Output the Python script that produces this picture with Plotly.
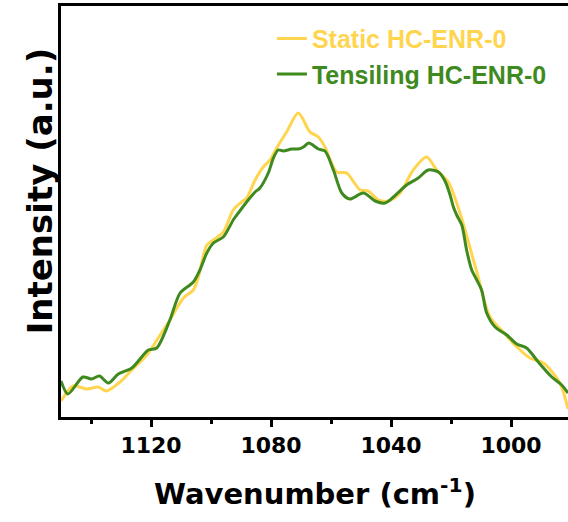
import plotly.graph_objects as go

# Static HC-ENR-0 (yellow)
static_wn = [1150.0, 1145.9, 1141.4, 1137.6, 1134.8, 1130.3, 1126.4, 1121.4, 1117.6, 1113.7,
             1109.2, 1105.9, 1104.2, 1101.4, 1099.2, 1095.9, 1092.6, 1089.8, 1088.1, 1085.3,
             1082.6, 1080.3, 1078.1, 1074.8, 1070.9, 1067.0, 1064.2, 1062.0, 1058.1, 1054.8,
             1050.3, 1047.6, 1044.2, 1040.9, 1037.0, 1032.6, 1028.1, 1024.8, 1020.9, 1017.0,
             1011.4, 1007.0, 1002.6, 998.7, 993.7, 989.2, 983.7, 981.0]
static_int = [16, 31, 28, 30, 26, 35, 47, 62, 79, 97,
              119, 127, 140, 172, 177, 185, 207, 215, 219, 237,
              250, 257, 269, 285, 304, 285, 280, 270, 245, 244,
              227, 226, 217, 216, 224, 247, 260, 247, 235, 204,
              145, 100, 85, 72, 59, 54, 34, 8]

# Tensiling HC-ENR-0 (green)
tens_wn = [1150.0, 1147.7, 1142.7, 1139.8, 1137.2, 1134.2, 1130.9, 1126.4, 1120.9, 1118.1,
           1113.7, 1110.3, 1105.9, 1103.7, 1101.4, 1099.2, 1095.9, 1092.6, 1090.9, 1087.6,
           1085.3, 1083.7, 1080.9, 1079.2, 1077.6, 1075.9, 1073.1, 1070.9, 1069.2, 1067.4,
           1064.2, 1062.0, 1059.2, 1056.4, 1053.7, 1049.2, 1045.3, 1042.0, 1039.2, 1034.8,
           1030.9, 1027.6, 1024.2, 1022.0, 1020.3, 1019.2, 1018.1, 1016.4, 1014.8, 1013.1,
           1011.4, 1009.8, 1008.1, 1005.3, 1001.4, 998.1, 994.8, 990.9, 986.4, 983.1, 981.0]
tens_int = [36, 23, 40, 38, 41, 34, 43, 49, 67, 69,
            97, 124, 135, 147, 164, 174, 180, 197, 204, 217,
            225, 229, 244, 259, 267, 266, 268, 268, 270, 274,
            268, 266, 247, 224, 218, 224, 216, 214, 220, 232,
            239, 247, 245, 236, 222, 210, 202, 192, 167, 147,
            137, 127, 104, 90, 82, 73, 69, 55, 40, 32, 24]

tick_vals = [1120, 1080, 1040, 1000]
tick_text = ["1120", "1080", "1040", "1000"]

YELLOW = "#FFD54F"
GREEN = "#3F8A1E"

fig = go.Figure()
fig.add_trace(go.Scatter(
    x=static_wn, y=static_int, mode="lines",
    line=dict(color=YELLOW, width=3, shape="spline", smoothing=0.8),
    name=f'<span style="color:{YELLOW}">Static HC-ENR-0</span>'))
fig.add_trace(go.Scatter(
    x=tens_wn, y=tens_int, mode="lines",
    line=dict(color=GREEN, width=3, shape="spline", smoothing=0.8),
    name=f'<span style="color:{GREEN}">Tensiling HC-ENR-0</span>'))

fig.update_layout(
    width=568, height=522,
    margin=dict(l=61, r=0, t=6, b=105, autoexpand=False),
    paper_bgcolor="white", plot_bgcolor="white",
    showlegend=True,
    legend=dict(x=0.416, y=0.976, xanchor="left", yanchor="top",
                bgcolor="rgba(0,0,0,0)",
                font=dict(family="Liberation Sans, Arial, sans-serif", size=25, weight="bold"),
                tracegroupgap=0, itemwidth=30),
    xaxis=dict(range=[1150, 981], tickvals=tick_vals, ticktext=tick_text,
               showgrid=False, zeroline=False, automargin=False,
               showline=True, linecolor="black", linewidth=2.5, mirror=True,
               ticks="outside", ticklen=7, tickwidth=2.5, tickcolor="black",
               tickfont=dict(family="DejaVu Sans", size=22, color="black", weight="bold"),
               minor=dict(ticks="outside", ticklen=4, tickwidth=2.5, tickcolor="black",
                          tick0=1000, dtick=20)),
    yaxis=dict(range=[0, 411], showticklabels=False, showgrid=False, zeroline=False,
               automargin=False,
               showline=True, linecolor="black", linewidth=2.5, ticks=""),
    annotations=[
        dict(text="Wavenumber (cm<sup>-1</sup>)", xref="paper", yref="paper",
             x=0.5, y=-0.183, xanchor="center", yanchor="middle", showarrow=False,
             font=dict(family="DejaVu Sans", size=29, color="black", weight="bold")),
        dict(text="Intensity (a.u.)", xref="paper", yref="paper", textangle=-90,
             x=-0.0414, y=0.549, xanchor="center", yanchor="middle", showarrow=False,
             font=dict(family="DejaVu Sans", size=34, color="black", weight="bold")),
    ],
)

fig.write_html(
    "out.html",
    config={"displayModeBar": False},
    post_script="document.body.style.margin='0';document.body.style.overflow='hidden';",
)
